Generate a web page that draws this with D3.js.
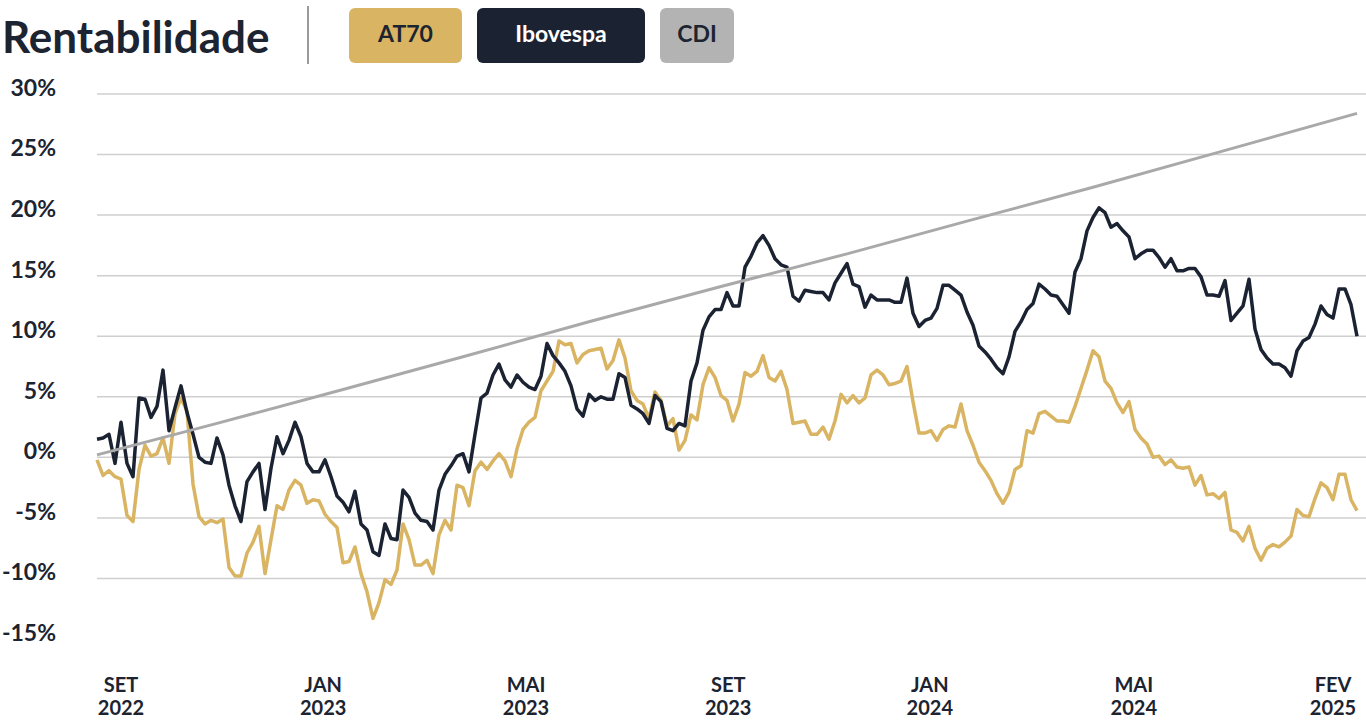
<!DOCTYPE html>
<html><head><meta charset="utf-8">
<script src="https://cdn.jsdelivr.net/npm/d3@7"></script>
<style>
html,body{margin:0;padding:0;background:#fff;}
svg{display:block;font-family:Lato,"Noto Sans",sans-serif;}
</style></head><body>
<svg id="chart" width="1366" height="724"></svg>
<script>
// ---------- data ----------
const seriesNames = ["AT70", "Ibovespa", "CDI"];
const xLabelTop = ["SET", "JAN", "MAI", "SET", "JAN", "MAI", "FEV"];
const xLabelBottom = ["2022", "2023", "2023", "2023", "2024", "2024", "2025"];
const xLabelIdx = [4, 37.7, 71.5, 105.2, 138.8, 172.8, 206];
const yTicks = [-15, -10, -5, 0, 5, 10, 15, 20, 25, 30];
const gridTicks = [-10, -5, 0, 5, 10, 15, 20, 25, 30];

const at70 = [
 -0.2,-1.5,-1.1,-1.6,-1.8,-4.8,-5.3,-1.0,1.0,0.1,0.3,1.6,-0.5,3.6,4.9,3.8,-2.2,-4.9,-5.5,-5.2,-5.4,
 -5.1,-9.1,-9.8,-9.8,-7.9,-7.0,-5.7,-9.6,-6.8,-4.0,-4.3,-2.7,-1.9,-2.3,-3.8,-3.5,-3.6,-4.7,-5.3,-5.8,
 -8.7,-8.6,-7.4,-9.6,-11.1,-13.3,-12.0,-10.1,-10.5,-9.3,-5.5,-6.8,-8.9,-8.9,-8.5,-9.6,-6.4,-5.2,-6.0,-2.3,-2.5,
 -4.0,-1.1,-0.4,-1.0,-0.3,0.3,-0.3,-1.6,0.7,2.3,2.9,3.3,5.5,6.3,7.1,9.6,9.3,9.4,7.8,8.5,8.8,
 8.9,9.0,7.3,8.0,9.7,8.2,5.5,4.7,4.4,3.2,5.4,4.7,2.6,3.2,0.6,1.4,3.5,3.1,6.0,7.4,6.6,
 5.1,4.7,3.0,4.4,7.0,6.7,7.1,8.4,6.6,6.3,7.1,5.6,2.8,2.9,3.0,1.9,1.9,2.5,1.5,3.0,5.2,
 4.5,5.1,4.5,4.9,6.8,7.2,6.8,6.0,6.1,6.3,7.5,4.6,2.0,2.0,2.2,1.4,2.3,2.6,2.5,4.4,
 2.2,1.0,-0.4,-1.1,-1.9,-3.0,-3.8,-2.9,-1.0,-0.7,2.2,2.0,3.6,3.8,3.4,3.0,3.0,2.9,4.2,5.7,7.2,
 8.8,8.3,6.3,5.7,4.5,3.7,4.6,2.3,1.6,1.1,0.0,0.1,-0.6,-0.2,-0.8,-0.9,-0.8,-2.3,-1.5,-3.1,-3.0,
 -3.4,-2.9,-6.0,-6.2,-6.9,-5.7,-7.5,-8.5,-7.5,-7.2,-7.4,-7.0,-6.5,-4.3,-4.8,-4.9,-3.4,-2.1,-2.5,-3.5,-1.4,-1.4,-3.5,-4.4
];
const ibovespa = [
 1.5,1.6,1.9,-0.5,2.9,-0.5,-1.6,4.9,4.8,3.3,4.2,7.2,2.2,4.1,5.9,3.7,1.9,0.0,-0.4,-0.5,1.6,
 0.2,-2.3,-4.0,-5.3,-2.0,-1.2,-0.5,-4.3,-0.9,1.7,0.3,1.4,2.9,1.7,-0.5,-1.2,-1.2,-0.2,-1.6,-3.2,
 -3.7,-4.5,-2.8,-5.5,-6.0,-7.8,-8.1,-5.5,-6.7,-6.8,-2.7,-3.3,-4.6,-5.2,-5.3,-6.0,-2.7,-1.4,-0.7,0.1,0.3,
 -1.2,1.9,4.9,5.3,6.8,7.7,6.4,5.8,6.8,6.2,5.8,5.6,6.7,9.4,8.4,7.8,7.1,5.9,4.0,3.4,5.2,
 4.7,5.0,4.8,4.8,6.9,6.6,4.3,4.0,3.6,2.8,5.1,4.6,2.4,2.2,2.8,2.6,6.3,7.8,10.5,11.6,12.2,
 12.2,13.6,12.5,12.5,15.7,16.6,17.7,18.3,17.5,16.4,15.9,15.7,13.3,12.9,13.8,13.7,13.6,13.6,13.0,14.4,15.2,
 16.0,14.3,14.1,12.4,13.4,13.0,13.0,13.0,12.8,12.8,14.8,11.9,10.8,11.3,11.5,12.3,14.2,14.2,13.8,13.4,
 12.0,10.9,9.2,8.7,8.1,7.4,6.9,8.3,10.4,11.2,12.2,12.7,14.3,13.9,13.4,13.3,12.6,11.9,15.3,16.4,18.7,
 19.8,20.6,20.2,19.0,19.3,18.7,18.2,16.4,16.8,17.1,17.1,16.5,15.7,16.4,15.4,15.4,15.6,15.6,14.9,13.4,13.4,
 13.3,14.6,11.3,11.9,12.5,14.7,10.6,8.9,8.2,7.7,7.7,7.4,6.7,8.8,9.6,9.9,11.0,12.5,11.8,11.5,13.9,13.9,12.6,10.0
];
const cdiIdx = [0, 20, 41, 61, 82, 104, 125, 145, 166, 187, 210];
const cdi = [0.2, 2.8, 5.6, 8.3, 11.2, 14.1, 16.8, 19.5, 22.3, 25.2, 28.4];

// ---------- styles / layout ----------
const COL_GOLD = "#d9b462", COL_DARK = "#1b2232", COL_GRAY = "#a9a9a9", COL_TEXT = "#1c2331";
const legendBoxes = [{x:349,w:113,fill:COL_GOLD,tc:COL_TEXT},{x:477,w:168,fill:COL_DARK,tc:"#ffffff"},{x:660,w:74,fill:"#b3b3b3",tc:COL_TEXT}];

const svg = d3.select("#chart");
const x = d3.scaleLinear().domain([0, at70.length - 1]).range([97, 1357]);
const y = d3.scaleLinear().domain([-15, 30]).range([639, 94]);

// gridlines
svg.append("g").selectAll("line").data(gridTicks).join("line")
  .attr("x1", 97).attr("x2", 1366)
  .attr("y1", d => y(d)).attr("y2", d => y(d))
  .attr("stroke", "#cfcfcf").attr("stroke-width", 1.5);

// y labels
svg.append("g").selectAll("text").data(yTicks).join("text")
  .attr("x", 56).attr("y", d => y(d) - 4)
  .attr("text-anchor", "end").attr("dominant-baseline", "middle")
  .attr("font-size", 23).attr("font-weight", 700).attr("fill", COL_TEXT)
  .text(d => d + "%");

// x labels
const xl = svg.append("g").selectAll("text").data(xLabelIdx).join("text")
  .attr("x", d => x(d)).attr("y", 692)
  .attr("text-anchor", "middle").attr("font-size", 20).attr("font-weight", 700).attr("fill", COL_TEXT);
xl.append("tspan").attr("x", d => x(d)).attr("dy", 0).text((d, i) => xLabelTop[i]);
xl.append("tspan").attr("x", d => x(d)).attr("dy", 23).text((d, i) => xLabelBottom[i]);

// lines
const line = d3.line().x((d, i) => x(i)).y(d => y(d)).curve(d3.curveLinear);
svg.append("path").datum(at70).attr("d", line)
  .attr("fill", "none").attr("stroke", COL_GOLD).attr("stroke-width", 3.5).attr("stroke-linejoin", "round");
svg.append("path").datum(ibovespa).attr("d", line)
  .attr("fill", "none").attr("stroke", COL_DARK).attr("stroke-width", 3.5).attr("stroke-linejoin", "round");
const cdiLine = d3.line().x((d, i) => x(cdiIdx[i])).y(d => y(d));
svg.append("path").datum(cdi).attr("d", cdiLine)
  .attr("fill", "none").attr("stroke", COL_GRAY).attr("stroke-width", 3);

// title
svg.append("text").attr("x", 2).attr("y", 53).attr("font-size", 44).attr("font-weight", 700)
  .attr("fill", COL_TEXT).text("Rentabilidade");
svg.append("line").attr("x1", 308).attr("x2", 308).attr("y1", 6).attr("y2", 64)
  .attr("stroke", "#9a9a9a").attr("stroke-width", 2);

// legend
const lg = svg.append("g").selectAll("g").data(seriesNames).join("g");
lg.append("rect").attr("x", (d, i) => legendBoxes[i].x).attr("y", 8)
  .attr("width", (d, i) => legendBoxes[i].w).attr("height", 55).attr("rx", 6)
  .attr("fill", (d, i) => legendBoxes[i].fill);
lg.append("text").attr("x", (d, i) => legendBoxes[i].x + legendBoxes[i].w / 2).attr("y", 36)
  .attr("text-anchor", "middle").attr("dominant-baseline", "middle")
  .attr("font-size", 23).attr("font-weight", 700).attr("fill", (d, i) => legendBoxes[i].tc)
  .text(d => d);
</script>
</body></html>
